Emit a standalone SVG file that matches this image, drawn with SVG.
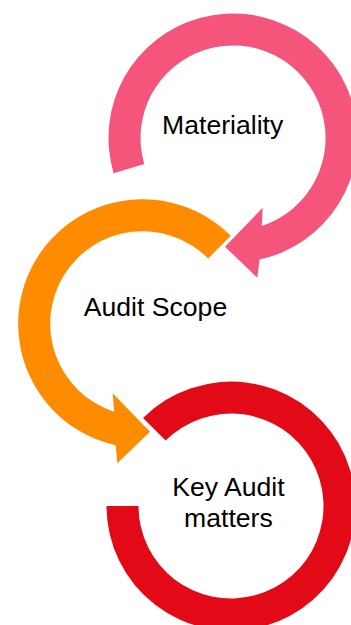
<svg xmlns="http://www.w3.org/2000/svg" width="351" height="625" viewBox="0 0 351 625">
<style>
.lbl{font-family:"Liberation Sans",Arial,sans-serif;font-size:26.6px;fill:#000;text-anchor:middle}
.pink{fill:#F5547B}
.orange{fill:#FF8C00}
.red{fill:#E20A17}
</style>
<rect width="351" height="625" fill="#fff"/>
<g id="connectors"></g>
<g id="materiality">
<path class="pink" d="M113.6 173.2 A124.5 124.5 0 1 1 259.5 259.6 L257.3 277.7 L225 246.7 L262.7 207.7 L261.7 225.9 A92.5 92.5 0 1 0 144.3 164.1 Z"/>
<text class="lbl" x="222.7" y="133.5">Materiality</text>
</g>
<g id="audit-scope">
<path class="orange" d="M230.8 235.8 A124.5 124.5 0 1 0 115.7 445.3 L117.3 463.3 L150 431.7 L112.7 393.3 L114.1 411.7 A92.5 92.5 0 1 1 208.2 258.4 Z"/>
<text class="lbl" x="155.5" y="315.5">Audit Scope</text>
</g>
<g id="key-audit-matters">
<path class="red" d="M143 418 A124.5 124.5 0 1 1 106.5 506 L138.5 506 A92.5 92.5 0 1 0 165.6 440.6 Z"/>
<text class="lbl" x="228.4" y="496">Key Audit</text>
<text class="lbl" x="228.4" y="527">matters</text>
</g>
</svg>
